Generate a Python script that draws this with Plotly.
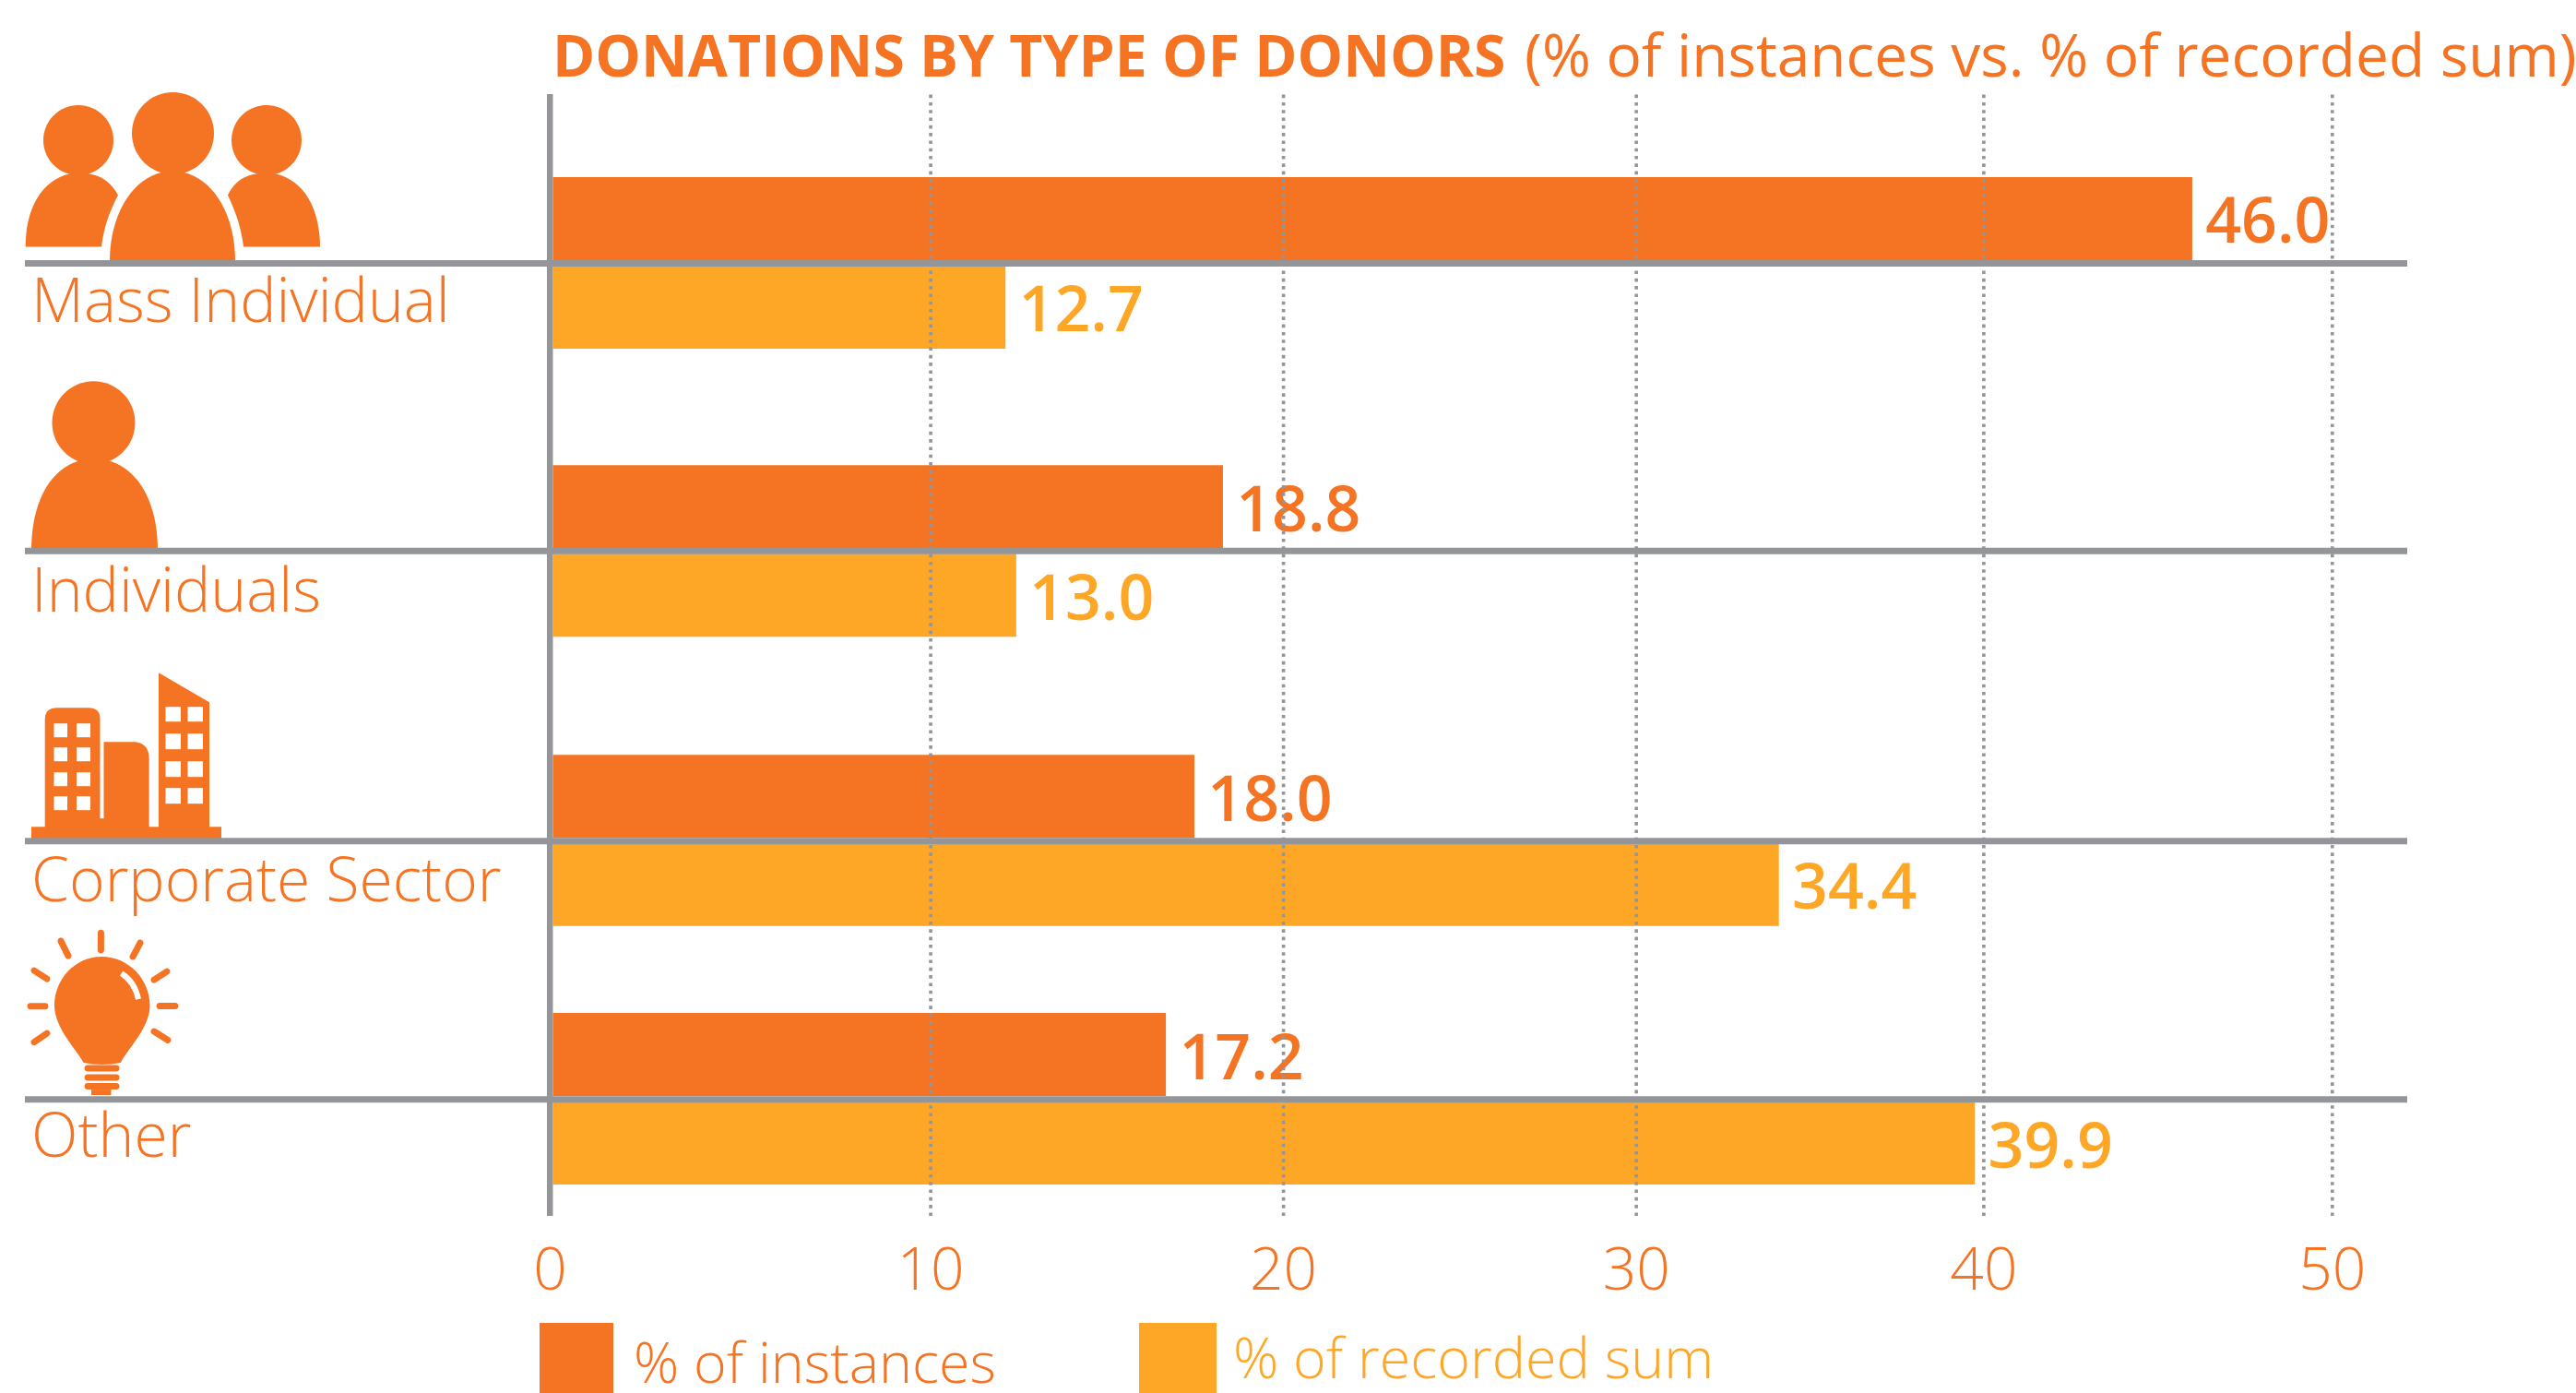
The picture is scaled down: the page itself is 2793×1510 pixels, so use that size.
import plotly.graph_objects as go

# ---- data ----
categories = ["Mass Individual", "Individuals", "Corporate Sector", "Other"]
pct_instances = [46.0, 18.8, 18.0, 17.2]
pct_recorded_sum = [12.7, 13.0, 34.4, 39.9]
tick_labels = ["0", "10", "20", "30", "40", "50"]
tick_marks = [-0.08, 10.6, 20.5, 30.4, 40.15, 49.93]   # the printed scale does not line up with the bars in the source

# ---- layout constants (page pixels) ----
W, H = 2793, 1510
L, R, T, B = 27, 2610, 101.5, 1318
X0, K = 599.5, 38.64
ORANGE, YELLOW, GREY = "#F57423", "#FEA727", "#939598"
FONT = "Open Sans"
orange_y = [236.5, 549, 863, 1143]
yellow_y = [332.5, 645, 958.5, 1239]
rule_y = [285, 597, 911.5, 1191.7]
label_y = [323, 637, 951, 1228]

def px(x):
    return (x - L) / (R - L)
def py(y):
    return (B - y) / (B - T)

def path(cmds):
    out = []
    for c in cmds:
        if isinstance(c, str):
            out.append(c)
        else:
            out.append(f"{px(c[0]):.5f},{py(c[1]):.5f}")
    return " ".join(out)

def shape(cmds, fill=ORANGE, line=None, width=0):
    d = dict(type="path", xref="paper", yref="paper", path=path(cmds), layer="above",
             line=dict(width=width, color=line or "rgba(0,0,0,0)"))
    if fill:
        d["fillcolor"] = fill
    return d

def circle(cx, cy, r):
    k = 0.5523 * r
    return shape(["M", (cx - r, cy), "C", (cx - r, cy - k), (cx - k, cy - r), (cx, cy - r),
                  "C", (cx + k, cy - r), (cx + r, cy - k), (cx + r, cy),
                  "C", (cx + r, cy + k), (cx + k, cy + r), (cx, cy + r),
                  "C", (cx - k, cy + r), (cx - r, cy + k), (cx - r, cy), "Z"])

def rect(x0, y0, x1, y1, fill=ORANGE):
    return dict(type="rect", xref="paper", yref="paper", x0=px(x0), x1=px(x1), y0=py(y0), y1=py(y1),
                fillcolor=fill, line=dict(width=0), layer="above")

def capsule(x0, y0, x1, y1, w=7):
    dx, dy = x1 - x0, y1 - y0
    n = (dx * dx + dy * dy) ** 0.5
    ux, uy = dx / n, dy / n
    nx, ny = -uy * w / 2, ux * w / 2
    ex, ey = ux * w * 0.66, uy * w * 0.66
    return shape(["M", (x0 + nx, y0 + ny), "L", (x1 + nx, y1 + ny),
                  "C", (x1 + nx + ex, y1 + ny + ey), (x1 - nx + ex, y1 - ny + ey), (x1 - nx, y1 - ny),
                  "L", (x0 - nx, y0 - ny),
                  "C", (x0 - nx - ex, y0 - ny - ey), (x0 + nx - ex, y0 + ny - ey), (x0 + nx, y0 + ny), "Z"])

shapes = []
# dotted guides, above bars
for t in tick_marks[1:]:
    shapes.append(dict(type="line", xref="x", yref="paper", x0=t, x1=t, y0=0, y1=1, layer="above",
                       line=dict(color=GREY, width=3.6, dash="3.6px,4.7px")))

# people
shapes += [
    circle(85, 151.5, 38), circle(187.5, 144, 44.5), circle(289, 151.5, 38),
    shape(["M", (27.7, 267), "C", (27.7, 215), (55, 187), (85, 187), "C", (102, 187), (118, 192), (128, 211),
           "C", (117, 232), (112, 250), (110, 267), "Z"]),
    shape(["M", (347, 267), "C", (347, 215), (320, 187), (289, 187), "C", (272, 187), (256, 192), (247, 211),
           "C", (257, 232), (262, 250), (264, 267), "Z"]),
    shape(["M", (119, 283), "C", (119, 225), (150, 185), (187, 185), "C", (225, 185), (255, 225), (255, 283), "Z"]),
]
# single person
shapes += [
    circle(101.5, 458, 45),
    shape(["M", (34, 596), "C", (34, 535), (62, 497), (102, 497), "C", (142, 497), (171, 535), (171, 596), "Z"]),
]
# buildings
shapes += [
    rect(34, 896, 240, 909),
    shape(["M", (48.7, 897), "L", (48.7, 780), "Q", (48.7, 767), (62, 767), "L", (96, 767), "Q", (108.5, 767), (108.5, 779),
           "L", (108.5, 897), "Z"]),
    shape(["M", (112.5, 897), "L", (112.5, 804), "L", (147, 804), "Q", (161.6, 806), (161.6, 822), "L", (161.6, 897), "Z"]),
    rect(108, 887, 113, 897),
    shape(["M", (172, 729), "L", (227, 761), "L", (227, 897), "L", (172, 897), "Z"]),
]
for y0, y1 in [(784, 799), (810, 825), (837, 852), (863, 878)]:
    shapes += [rect(58.5, y0, 73, y1, "white"), rect(83, y0, 98, y1, "white")]
for y0, y1 in [(766, 782), (795, 812), (825, 842), (854, 871)]:
    shapes += [rect(179.5, y0, 196, y1, "white"), rect(203.5, y0, 220, y1, "white")]
# bulb
shapes += [
    shape(["M", (110, 1037), "C", (140, 1037), (162.5, 1062), (162.5, 1090), "C", (162.5, 1115), (136, 1140), (131, 1152),
           "Q", (110, 1156), (90.6, 1152), "C", (85, 1140), (59, 1115), (59, 1090), "C", (59, 1062), (81, 1037), (110, 1037), "Z"]),
    shape(["M", (131.7, 1055), "Q", (146, 1064), (150, 1083)], fill=None, line="white", width=6),
    capsule(95, 1158, 126, 1158), capsule(95, 1168, 126, 1168), capsule(95, 1177.5, 126, 1177.5),
    rect(99, 1181, 120.5, 1187),
]
for a in [(109.4, 1011, 109.4, 1030), (66, 1020, 74, 1036), (152, 1022, 144, 1037), (37, 1052, 51, 1061),
          (181, 1053, 167, 1062), (33, 1090.7, 49, 1090.7), (173, 1090.4, 190, 1090.4), (37, 1129.5, 51, 1120),
          (167, 1118, 182, 1127.5)]:
    shapes.append(capsule(*a))
# rules and axis
for y in rule_y:
    shapes.append(rect(L, y - 3.5, R, y + 3.5, GREY))
shapes.append(rect(593, T, 599.5, B, GREY))
# legend keys
shapes += [rect(585, 1434, 665, 1510, ORANGE), rect(1235, 1434, 1319, 1510, YELLOW)]

def note(text, x, y, size, color=ORANGE, weight=400, xanchor="left"):
    return dict(text=text, xref="paper", yref="paper", x=px(x), y=py(y), xanchor=xanchor, yanchor="middle",
                showarrow=False, font=dict(family=FONT, size=size, color=color, weight=weight), borderpad=0)

annotations = [note(c, 33, y, 66, weight=300) for c, y in zip(categories, label_y)]
annotations += [
    note("<b>DONATIONS BY TYPE OF DONORS</b>", 598, 57.5, 62.5),
    note("(% of instances vs. % of recorded sum)", 1652, 57.5, 64),
    note("% of instances", 686, 1476, 61, weight=300),
    note("% of recorded sum", 1336, 1471, 61, YELLOW, weight=300),
]

fig = go.Figure()
PAD = "\u2009"
fig.add_bar(name="% of instances", orientation="h", x=pct_instances, y=orange_y, width=90,
            marker=dict(color=ORANGE, line=dict(width=0)),
            text=[PAD + f"{v:.1f}" for v in pct_instances], textposition="outside", cliponaxis=False,
            constraintext="none", textfont=dict(family=FONT, size=68, color=ORANGE, weight=600))
fig.add_bar(name="% of recorded sum", orientation="h", x=pct_recorded_sum, y=yellow_y, width=90,
            marker=dict(color=YELLOW, line=dict(width=0)),
            text=[PAD + f"{v:.1f}" for v in pct_recorded_sum], textposition="outside", cliponaxis=False,
            constraintext="none", textfont=dict(family=FONT, size=68, color=YELLOW, weight=600))

fig.update_layout(
    width=W, height=H, autosize=False, barmode="overlay", showlegend=False,
    paper_bgcolor="white", plot_bgcolor="white",
    margin=dict(l=L, r=W - R, t=T, b=H - B, pad=0, autoexpand=False),
    xaxis=dict(range=[(L - X0) / K, (R - X0) / K], tickmode="array", tickvals=tick_marks, ticktext=tick_labels,
               showgrid=False, zeroline=False, showline=False, ticks="outside", ticklen=2, tickcolor="rgba(0,0,0,0)",
               tickfont=dict(family=FONT, size=64, color=ORANGE, weight=300)),
    yaxis=dict(range=[B, T], showticklabels=False, showgrid=False, zeroline=False, showline=False, ticks=""),
    shapes=shapes, annotations=annotations,
)
fig.write_html("out.html", config=dict(displayModeBar=False),
               post_script="document.body.style.margin='0';document.documentElement.style.overflow='hidden';")
